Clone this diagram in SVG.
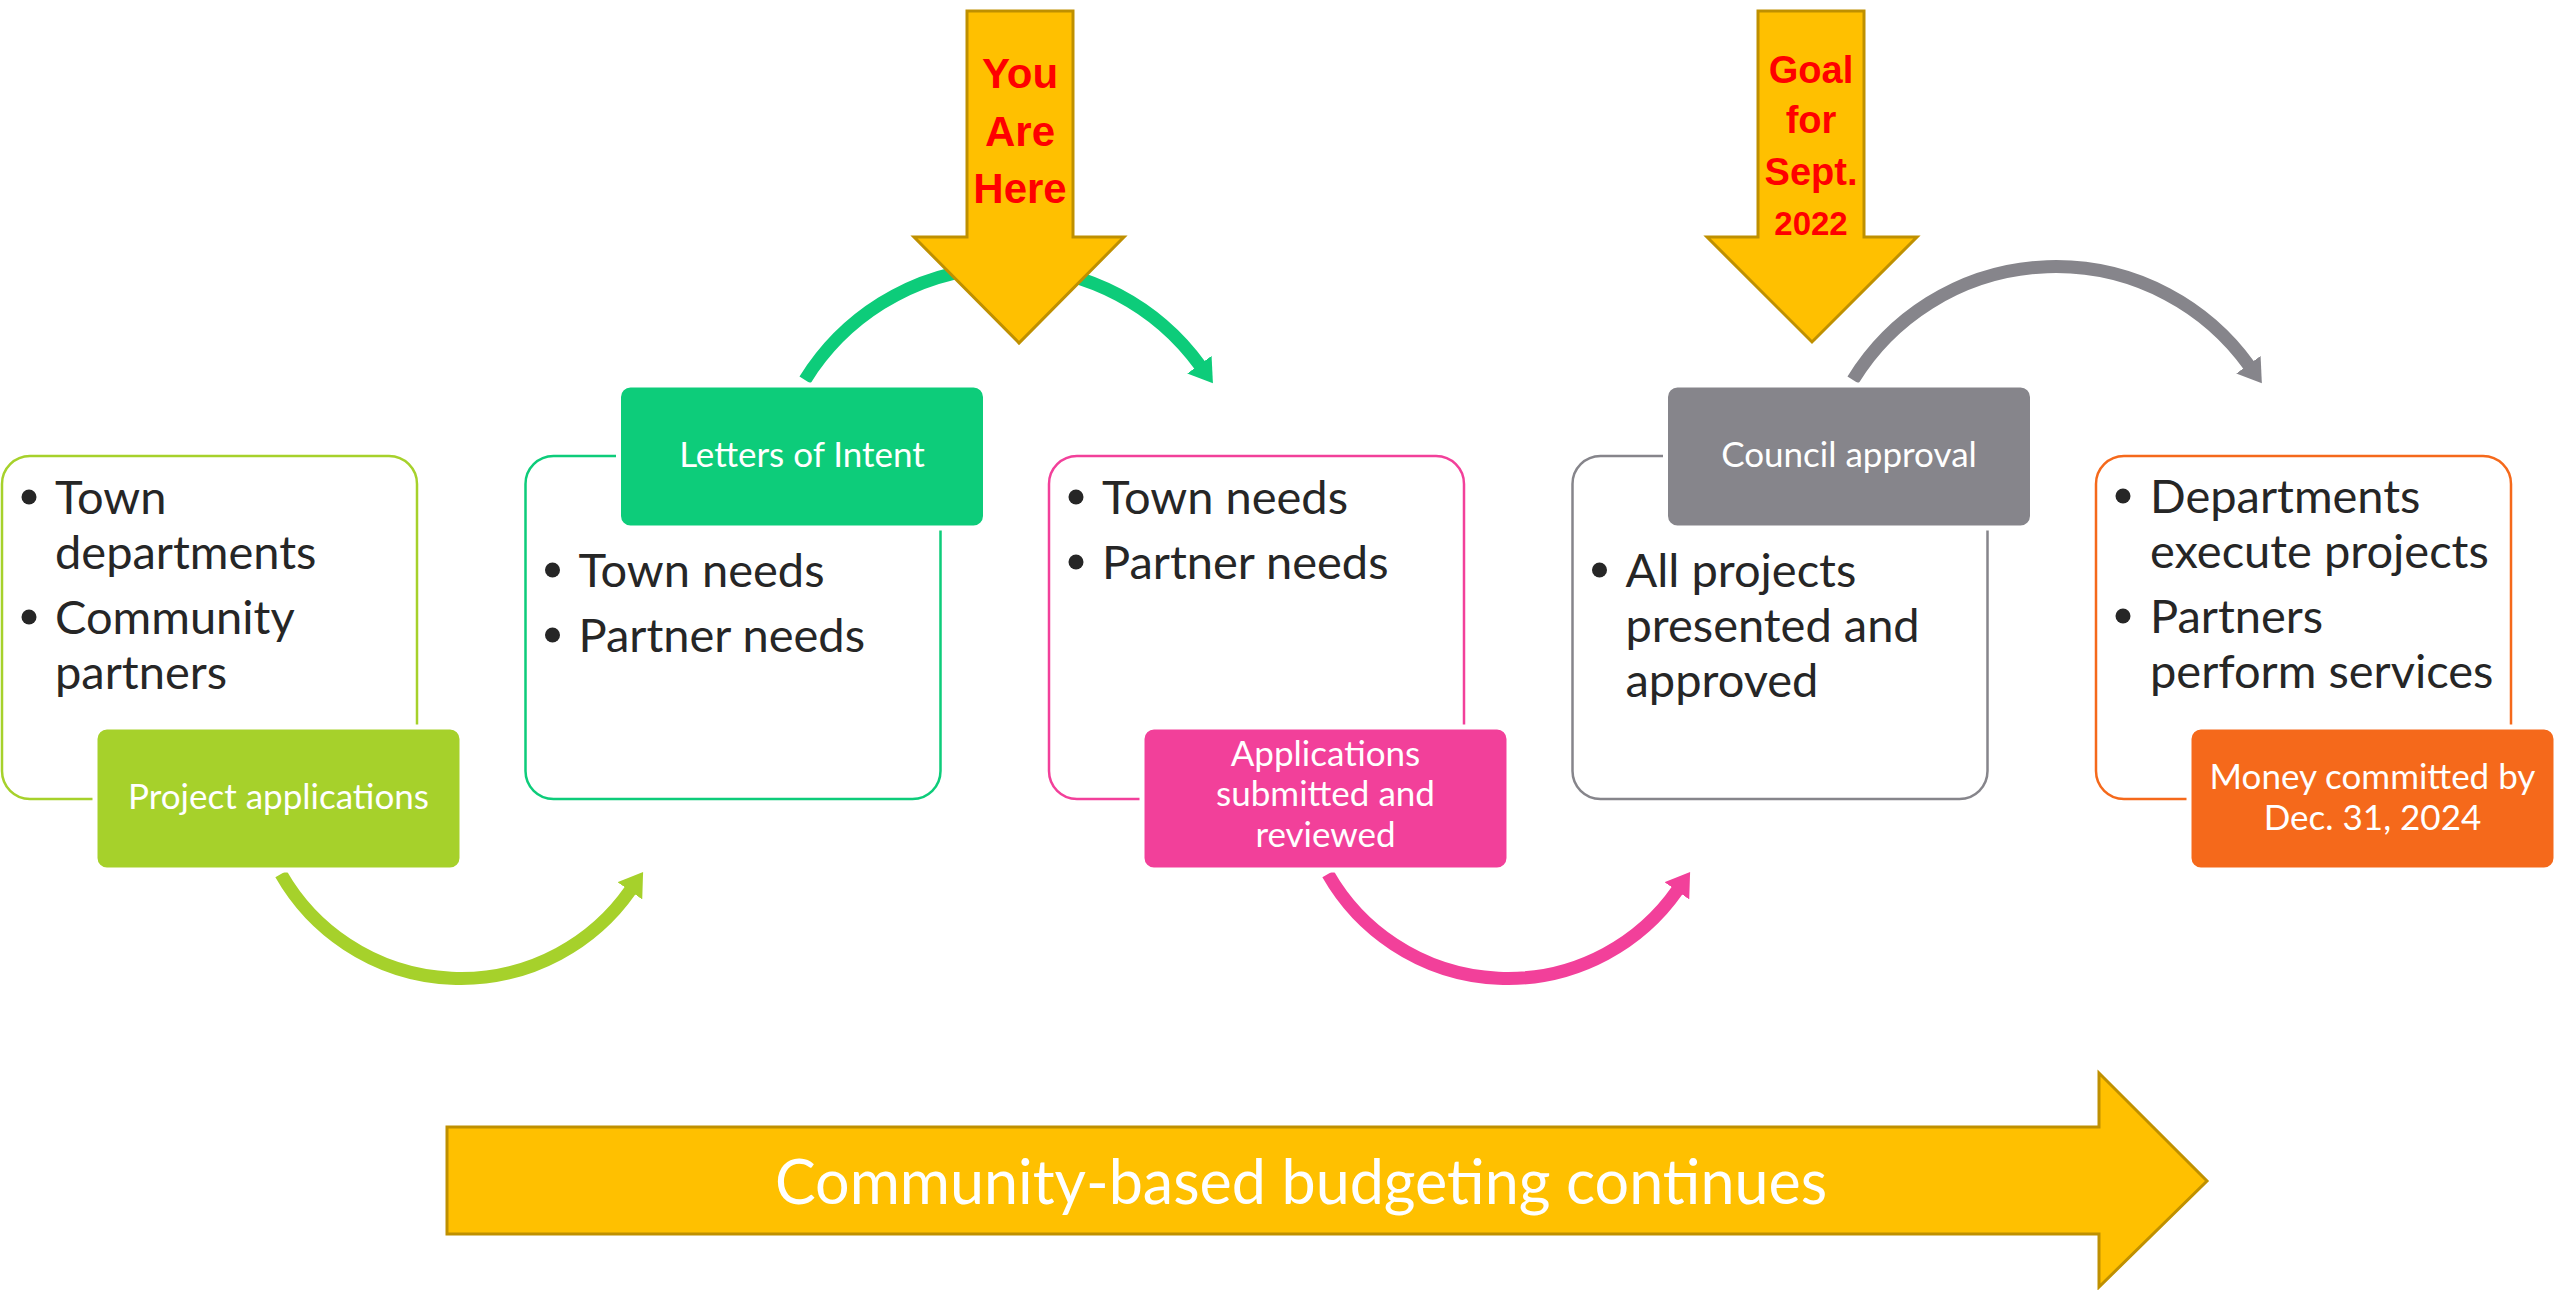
<svg xmlns="http://www.w3.org/2000/svg" width="2560" height="1290" viewBox="0 0 2560 1290">
<style>
.outline{fill:#fff;stroke-width:2.5}
.tab{stroke:#fff;stroke-width:5}
.bt{font-family:Lato,"Open Sans",sans-serif;font-size:47px;fill:#262626}
.dot{fill:#262626}
.tt{font-family:Lato,"Open Sans",sans-serif;font-size:35px;fill:#fff;text-anchor:middle}
.arc{fill:none;stroke-width:13}
.yel{fill:#FFC000;stroke:#BF9000;stroke-width:3;stroke-linejoin:miter}
.red{font-family:"Liberation Sans",Arial,sans-serif;font-weight:bold;fill:#FF0000;text-anchor:middle}
.big{font-family:Lato,"Open Sans",sans-serif;font-size:61px;fill:#fff;text-anchor:middle}
</style>
<defs>
<marker id="mLime" markerUnits="userSpaceOnUse" markerWidth="24" markerHeight="30" viewBox="0 0 24 30" refX="1" refY="15" orient="auto"><path d="M0,0 L23,15 L0,30 z" fill="#A6D12B"/></marker>
<marker id="mGreen" markerUnits="userSpaceOnUse" markerWidth="24" markerHeight="30" viewBox="0 0 24 30" refX="1" refY="15" orient="auto"><path d="M0,0 L23,15 L0,30 z" fill="#0DCC7A"/></marker>
<marker id="mPink" markerUnits="userSpaceOnUse" markerWidth="24" markerHeight="30" viewBox="0 0 24 30" refX="1" refY="15" orient="auto"><path d="M0,0 L23,15 L0,30 z" fill="#F2409A"/></marker>
<marker id="mGray" markerUnits="userSpaceOnUse" markerWidth="24" markerHeight="30" viewBox="0 0 24 30" refX="1" refY="15" orient="auto"><path d="M0,0 L23,15 L0,30 z" fill="#86858B"/></marker>
</defs>

<g id="box1">
<rect class="outline" x="2" y="456" width="415" height="343" rx="28" stroke="#A6D12B"/>
<circle class="dot" cx="29" cy="497" r="7.5"/>
<text class="bt" x="55" y="514">Town</text>
<text class="bt" x="55" y="569">departments</text>
<circle class="dot" cx="29" cy="617" r="7.5"/>
<text class="bt" x="55" y="634">Community</text>
<text class="bt" x="55" y="689">partners</text>
</g>
<g id="box2">
<rect class="outline" x="525.5" y="456" width="415" height="343" rx="28" stroke="#0DCC7A"/>
<circle class="dot" cx="552.5" cy="570" r="7.5"/>
<text class="bt" x="578.5" y="587">Town needs</text>
<circle class="dot" cx="552.5" cy="635" r="7.5"/>
<text class="bt" x="578.5" y="652">Partner needs</text>
</g>
<g id="box3">
<rect class="outline" x="1049" y="456" width="415" height="343" rx="28" stroke="#F2409A"/>
<circle class="dot" cx="1076" cy="497" r="7.5"/>
<text class="bt" x="1102" y="514">Town needs</text>
<circle class="dot" cx="1076" cy="562" r="7.5"/>
<text class="bt" x="1102" y="579">Partner needs</text>
</g>
<g id="box4">
<rect class="outline" x="1572.5" y="456" width="415" height="343" rx="28" stroke="#86858B"/>
<circle class="dot" cx="1599.5" cy="570" r="7.5"/>
<text class="bt" x="1625.5" y="587">All projects</text>
<text class="bt" x="1625.5" y="642">presented and</text>
<text class="bt" x="1625.5" y="697">approved</text>
</g>
<g id="box5">
<rect class="outline" x="2096" y="456" width="415" height="343" rx="28" stroke="#F5691B"/>
<circle class="dot" cx="2123" cy="496" r="7.5"/>
<text class="bt" x="2150" y="513">Departments</text>
<text class="bt" x="2150" y="568">execute projects</text>
<circle class="dot" cx="2123" cy="616" r="7.5"/>
<text class="bt" x="2150" y="633">Partners</text>
<text class="bt" x="2150" y="688">perform services</text>
</g>

<g id="connectors">
<path class="arc" d="M281,874 A207,207 0 0 0 630.5,890" stroke="#A6D12B" marker-end="url(#mLime)"/>
<path class="arc" d="M805,380 A238,238 0 0 1 1200,365.5" stroke="#0DCC7A" marker-end="url(#mGreen)"/>
<path class="arc" d="M1328,874 A207,207 0 0 0 1677.5,890" stroke="#F2409A" marker-end="url(#mPink)"/>
<path class="arc" d="M1853,380 A238,238 0 0 1 2249,365.5" stroke="#86858B" marker-end="url(#mGray)"/>
</g>

<g id="tab1">
<rect class="tab" x="95" y="727" width="367" height="143" rx="12" fill="#A6D12B"/>
<text class="tt" x="278.5" y="809">Project applications</text>
</g>
<g id="tab2">
<rect class="tab" x="618.5" y="385" width="367" height="143" rx="12" fill="#0DCC7A"/>
<text class="tt" x="802" y="467">Letters of Intent</text>
</g>
<g id="tab3">
<rect class="tab" x="1142" y="727" width="367" height="143" rx="12" fill="#F2409A"/>
<text class="tt" x="1325.5" y="766">Applications</text>
<text class="tt" x="1325.5" y="806">submitted and</text>
<text class="tt" x="1325.5" y="847">reviewed</text>
</g>
<g id="tab4">
<rect class="tab" x="1665.5" y="385" width="367" height="143" rx="12" fill="#86858B"/>
<text class="tt" x="1849" y="467">Council approval</text>
</g>
<g id="tab5">
<rect class="tab" x="2189" y="727" width="367" height="143" rx="12" fill="#F5691B"/>
<text class="tt" x="2372.5" y="789">Money committed by</text>
<text class="tt" x="2372.5" y="830">Dec. 31, 2024</text>
</g>

<g id="you-are-here">
<polygon class="yel" points="967,11 1073,11 1073,237 1124,237 1019,343 914,237 967,237"/>
<text class="red" x="1020" y="88" font-size="42">You</text>
<text class="red" x="1020" y="146" font-size="42">Are</text>
<text class="red" x="1020" y="203" font-size="42">Here</text>
</g>
<g id="goal">
<polygon class="yel" points="1758,11 1864,11 1864,237 1917,237 1812,342 1707,237 1758,237"/>
<text class="red" x="1811" y="83" font-size="38">Goal</text>
<text class="red" x="1811" y="133" font-size="38">for</text>
<text class="red" x="1811" y="185" font-size="38">Sept.</text>
<text class="red" x="1811" y="235" font-size="33">2022</text>
</g>
<g id="continues">
<polygon class="yel" points="447,1127 2099,1127 2099,1073 2207,1181 2099,1287 2099,1234 447,1234"/>
<text class="big" x="1301" y="1204">Community-based budgeting continues</text>
</g>
</svg>
